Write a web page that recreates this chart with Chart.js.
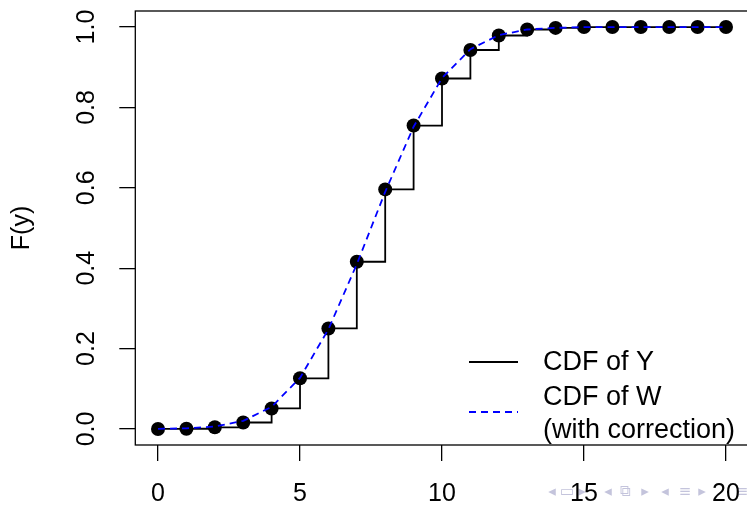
<!DOCTYPE html>
<html>
<head>
<meta charset="utf-8">
<script src="https://cdn.jsdelivr.net/npm/chart.js@4"></script>
<style>
    html, body { margin: 0; padding: 0; background: #fff; }
    #wrap { width: 747px; height: 505px; overflow: hidden; }
</style>
</head>
<body>
<div id="wrap"><canvas id="cdf-chart" width="760" height="505"></canvas></div>
<script>
// y = 0..20
const xVals = [0, 1, 2, 3, 4, 5, 6, 7, 8, 9, 10, 11, 12, 13, 14, 15, 16, 17, 18, 19, 20];
// CDF of Y (step function, dots)
const cdfY = [0.000, 0.0005, 0.004, 0.016, 0.051, 0.126, 0.250, 0.416, 0.596, 0.755, 0.872,
              0.943, 0.979, 0.994, 0.998, 1.000, 1.000, 1.000, 1.000, 1.000, 1.000];
// CDF of W with continuity correction (dashed blue)
const cdfW = [0.0003, 0.0015, 0.006, 0.020, 0.055, 0.127, 0.248, 0.410, 0.590, 0.752, 0.873,
              0.945, 0.980, 0.994, 0.998, 1.000, 1.000, 1.000, 1.000, 1.000, 1.000];
const xTicks = [0, 5, 10, 15, 20];
const yTicks = [0, 0.2, 0.4, 0.6, 0.8, 1.0];
const legendLabels = ['CDF of Y', 'CDF of W', '(with correction)'];
const yTitle = 'F(y)';

const FONT = "'Liberation Sans', Arial, sans-serif";

// R-style box, rotated y labels, legend
const rAxes = {
    id: 'rAxes',
    afterDraw(chart) {
        const { ctx, chartArea: a, scales } = chart;
        const x = scales.x, y = scales.y;
        ctx.save();

        // beamer navigation symbols (faint)
        ctx.fillStyle = '#c4c4dc';
        ctx.font = "15px 'DejaVu Sans'";
        ctx.textAlign = 'center';
        ctx.textBaseline = 'middle';
        [['\u25C2', 552], ['\u25AD', 567], ['\u25B8', 582], ['\u25C2', 608], ['\u29C9', 625],
         ['\u25B8', 645], ['\u25C2', 665], ['\u2261', 685], ['\u25B8', 702], ['\u2261', 742]]
            .forEach(([g, px]) => ctx.fillText(g, px, 492));

        // box
        ctx.strokeStyle = '#000';
        ctx.lineWidth = 1.3;
        ctx.strokeRect(a.left, a.top, a.right - a.left, a.bottom - a.top);

        ctx.fillStyle = '#000';
        ctx.font = '25px ' + FONT;

        // x tick labels
        ctx.textAlign = 'center';
        ctx.textBaseline = 'middle';
        xTicks.forEach(v => ctx.fillText(String(v), x.getPixelForValue(v), 494));

        // y tick labels, rotated
        yTicks.forEach(v => {
            ctx.save();
            ctx.translate(87, y.getPixelForValue(v));
            ctx.rotate(-Math.PI / 2);
            ctx.fillText(v.toFixed(1), 0, 0);
            ctx.restore();
        });

        // y title
        ctx.save();
        ctx.translate(22, (a.top + a.bottom) / 2);
        ctx.rotate(-Math.PI / 2);
        ctx.fillText(yTitle, 0, 0);
        ctx.restore();

        // legend (no box)
        ctx.lineWidth = 1.8;
        ctx.beginPath();
        ctx.moveTo(469, 362);
        ctx.lineTo(518, 362);
        ctx.stroke();
        ctx.strokeStyle = '#0000ff';
        ctx.setLineDash([7, 5]);
        ctx.beginPath();
        ctx.moveTo(469, 412);
        ctx.lineTo(518, 412);
        ctx.stroke();
        ctx.setLineDash([]);

        ctx.font = '27px ' + FONT;
        ctx.textAlign = 'left';
        ctx.fillText(legendLabels[0], 543, 363);
        ctx.fillText(legendLabels[1], 543, 398);
        ctx.fillText(legendLabels[2], 543, 431);

        ctx.restore();
    }
};

const axisOpts = (ticks) => ({
    type: 'linear',
    afterBuildTicks: (s) => { s.ticks = ticks.map(v => ({ value: v })); },
    grid: { drawOnChartArea: false, drawTicks: true, tickLength: 16, color: '#000', lineWidth: 1.3 },
    border: { display: false },
    ticks: { display: false }
});

new Chart(document.getElementById('cdf-chart'), {
    type: 'line',
    data: {
        datasets: [
            {
                label: 'CDF of W',
                data: xVals.map((v, i) => ({ x: v, y: cdfW[i] })),
                borderColor: '#0000ff',
                borderWidth: 1.8,
                borderDash: [7, 5],
                pointRadius: 0,
                fill: false,
                tension: 0,
                order: 0
            },
            {
                label: 'CDF of Y',
                data: xVals.map((v, i) => ({ x: v, y: cdfY[i] })),
                borderColor: '#000',
                borderWidth: 1.8,
                stepped: 'before',
                pointRadius: 7,
                pointBackgroundColor: '#000',
                pointBorderWidth: 0,
                fill: false,
                order: 1
            }
        ]
    },
    options: {
        responsive: false,
        animation: false,
        devicePixelRatio: 1,
        layout: { padding: { left: 135.3, right: 11.3, top: 11, bottom: 60 } },
        plugins: { legend: { display: false }, tooltip: { enabled: false } },
        scales: {
            x: { ...axisOpts(xTicks), min: -0.8, max: 20.8, afterFit: (s) => { s.height = 0; } },
            y: { ...axisOpts(yTicks), min: -0.04, max: 1.04, afterFit: (s) => { s.width = 0; } }
        }
    },
    plugins: [rAxes]
});
</script>
</body>
</html>
